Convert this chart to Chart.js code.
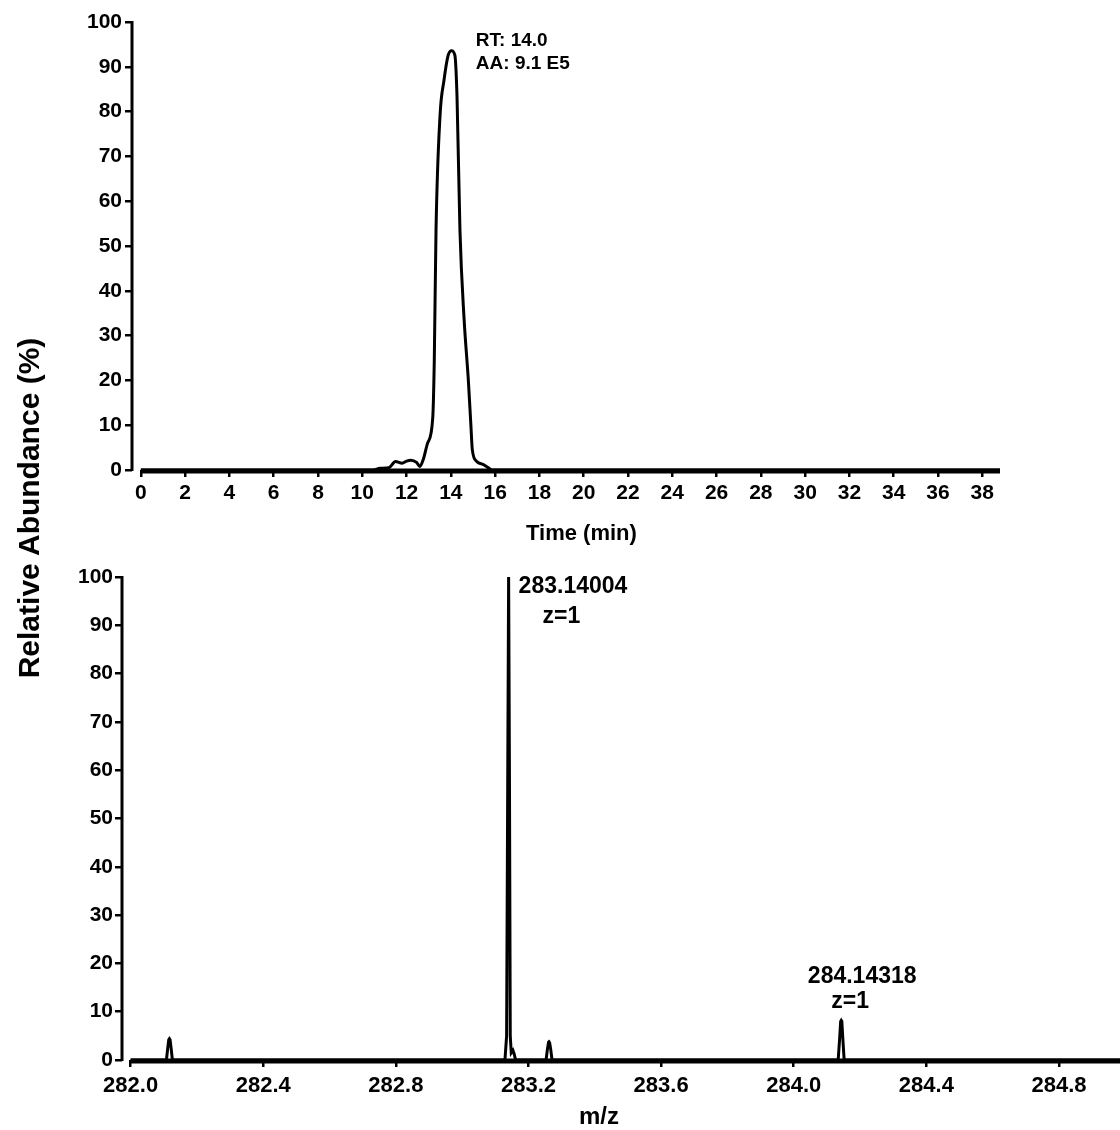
<!DOCTYPE html>
<html>
<head>
<meta charset="utf-8">
<title>Chromatogram and mass spectrum</title>
<script src="https://cdn.jsdelivr.net/npm/chart.js@4/dist/chart.umd.min.js"></script>
<style>
  html, body { margin: 0; padding: 0; background: #fff; }
  #page { position: relative; width: 1120px; height: 1130px; overflow: hidden;
          font-family: "Liberation Sans", Arial, sans-serif; font-weight: bold; color: #000; }
  .box { position: absolute; left: 0; width: 1120px; }
  #topBox { top: 0; height: 560px; }
  #botBox { top: 560px; height: 570px; }
  .cap { position: absolute; white-space: nowrap; line-height: 1; }
  #yTitle { width: 600px; height: 34px; line-height: 34px; text-align: center; font-size: 30px;
            left: -271px; top: 491px; transform: rotate(-90deg); }
  #tTitle { font-size: 22px; left: 526px; top: 522px; }
  #mTitle { font-size: 24px; left: 579px; top: 1104px; }
</style>
</head>
<body>
<div id="page">
  <div class="box" id="topBox"><canvas id="chromCanvas" width="1120" height="560"></canvas></div>
  <div class="box" id="botBox"><canvas id="msCanvas" width="1120" height="570"></canvas></div>
  <div class="cap" id="yTitle">Relative Abundance (%)</div>
  <div class="cap" id="tTitle">Time (min)</div>
  <div class="cap" id="mTitle">m/z</div>
</div>
<script>
// Extracted ion chromatogram: retention time (min) vs relative abundance (%)
const retentionTimes = [0, 10.5, 10.8, 11.2, 11.5, 11.8, 12.0, 12.2, 12.45, 12.6, 12.75, 12.95,
  13.18, 13.25, 13.33, 13.51, 13.69, 13.88, 14.03, 14.18, 14.28, 14.41, 14.6, 14.79, 14.9,
  14.97, 15.17, 15.47, 15.7, 15.85, 38.8];
const chromAbundance = [0, 0, 0.4, 0.5, 1.9, 1.5, 2.0, 2.2, 1.7, 0.8, 2.3, 6.0,
  11.5, 24, 53.6, 79, 87, 92.6, 93.6, 92.6, 83, 53.6, 33.5, 20, 10.4,
  4.5, 1.9, 1.2, 0.5, 0, 0];
const timeTicks = [0, 2, 4, 6, 8, 10, 12, 14, 16, 18, 20, 22, 24, 26, 28, 30, 32, 34, 36, 38];
const percentTicks = [0, 10, 20, 30, 40, 50, 60, 70, 80, 90, 100];

// Mass spectrum profile: m/z vs relative abundance (%)
const mzValues = [282.0, 282.108, 282.112, 282.115, 282.117, 282.119, 282.122, 282.126,
  283.129, 283.134, 283.1375, 283.14004, 283.1425, 283.145, 283.148, 283.153, 283.157, 283.161,
  283.253, 283.257, 283.2605, 283.262, 283.2635, 283.267, 283.271,
  284.134, 284.1385, 284.1415, 284.14318, 284.145, 284.148, 284.152, 285.0];
const msAbundance = [0, 0, 2.5, 4.2, 4.4, 4.2, 2.5, 0,
  0, 5, 60, 100, 60, 5, 1.5, 2, 1.2, 0,
  0, 2.2, 3.7, 3.8, 3.7, 2.2, 0,
  0, 4.5, 8.0, 8.2, 8.0, 4.5, 0, 0];
const mzTicks = [282.0, 282.4, 282.8, 283.2, 283.6, 284.0, 284.4, 284.8];

const baseFont = '"Liberation Sans", Arial, sans-serif';

// Offset Prism-style axis lines: the horizontal axis starts at the first tick
const axisLines = {
  id: 'axisLines',
  afterDatasetsDraw(chart, args, opts) {
    const { ctx, chartArea, scales } = chart;
    const x0 = scales.x.getPixelForValue(opts.xStart);
    const y0 = scales.y.getPixelForValue(0);
    ctx.save();
    ctx.strokeStyle = '#000';
    ctx.lineCap = 'butt';
    ctx.lineWidth = 3;
    ctx.beginPath();
    ctx.moveTo(chartArea.left, scales.y.getPixelForValue(100) - 1);
    ctx.lineTo(chartArea.left, y0 + 1);
    ctx.stroke();
    ctx.lineWidth = 5;
    ctx.beginPath();
    ctx.moveTo(x0, y0 + 1);
    ctx.lineTo(chartArea.right, y0 + 1);
    ctx.stroke();
    ctx.restore();
  }
};

// Text labels placed next to a data value on the x scale
const peakNotes = {
  id: 'peakNotes',
  afterDraw(chart, args, opts) {
    const { ctx, scales } = chart;
    ctx.save();
    ctx.fillStyle = '#000';
    ctx.textBaseline = 'middle';
    for (const n of opts.notes) {
      ctx.font = 'bold ' + n.size + 'px ' + baseFont;
      ctx.textAlign = n.align || 'left';
      const x = (n.at !== undefined ? scales.x.getPixelForValue(n.at) : 0) + n.dx;
      ctx.fillText(n.text, x, n.y);
    }
    ctx.restore();
  }
};

function axisOptions(ticks, fontSize, tickLen, pad, fmt) {
  return {
    type: 'linear',
    afterBuildTicks: s => { s.ticks = ticks.map(v => ({ value: v })); },
    border: { display: false },
    grid: { drawOnChartArea: false, drawTicks: true, tickLength: tickLen, color: '#000', lineWidth: 2.5 },
    ticks: { color: '#000', padding: pad, autoSkip: false, maxRotation: 0,
             font: { family: baseFont, size: fontSize, weight: 'bold' },
             callback: fmt }
  };
}

const common = {
  responsive: false,
  animation: false,
  events: [],
};

new Chart(document.getElementById('chromCanvas'), {
  type: 'line',
  data: {
    datasets: [{
      data: retentionTimes.map((t, i) => ({ x: t, y: chromAbundance[i] })),
      borderColor: '#000', borderWidth: 3, pointRadius: 0, fill: false,
      cubicInterpolationMode: 'monotone', clip: false
    }]
  },
  options: Object.assign({}, common, {
    layout: { padding: { top: 22, right: 120, left: 0, bottom: 0 } },
    plugins: {
      legend: { display: false }, tooltip: { enabled: false },
      axisLines: { xStart: 0 },
      peakNotes: { notes: [
        { text: 'RT: 14.0', at: 14.0, dx: 25, y: 41, size: 19 },
        { text: 'AA: 9.1 E5', at: 14.0, dx: 25, y: 64, size: 19 }
      ] }
    },
    scales: {
      x: Object.assign(axisOptions(timeTicks, 21, 7, 4, v => v), {
        min: -0.4, max: 38.8, afterFit: s => { s.height = 90; }
      }),
      y: Object.assign(axisOptions(percentTicks, 21, 7, 3, v => v), {
        min: 0, max: 100, afterFit: s => { s.width = 132; }
      })
    }
  }),
  plugins: [axisLines, peakNotes]
});

new Chart(document.getElementById('msCanvas'), {
  type: 'line',
  data: {
    datasets: [{
      data: mzValues.map((m, i) => ({ x: m, y: msAbundance[i] })),
      borderColor: '#000', borderWidth: 3, pointRadius: 0, fill: false,
      tension: 0, clip: false
    }]
  },
  options: Object.assign({}, common, {
    layout: { padding: { top: 17, right: 0, left: 0, bottom: 0 } },
    plugins: {
      legend: { display: false }, tooltip: { enabled: false },
      axisLines: { xStart: 282.0 },
      peakNotes: { notes: [
        { text: '283.14004', at: 283.14004, dx: 10, y: 27, size: 23 },
        { text: 'z=1', at: 283.14004, dx: 34, y: 57, size: 23 },
        { text: '284.14318', at: 284.14318, dx: 21, y: 417, size: 23, align: 'center' },
        { text: 'z=1', at: 284.14318, dx: 9, y: 442, size: 23, align: 'center' },
        { text: 'Δm = 0.14', dx: 925, y: 25, size: 23 },
        { text: 'ppm', dx: 925, y: 53, size: 23 }
      ] }
    },
    scales: {
      x: Object.assign(axisOptions(mzTicks, 22, 7, 6, v => v.toFixed(1)), {
        min: 281.974, max: 284.984, afterFit: s => { s.height = 70; }
      }),
      y: Object.assign(axisOptions(percentTicks, 21, 7, 2, v => v), {
        min: 0, max: 100, afterFit: s => { s.width = 122; }
      })
    }
  }),
  plugins: [axisLines, peakNotes]
});
</script>
</body>
</html>
